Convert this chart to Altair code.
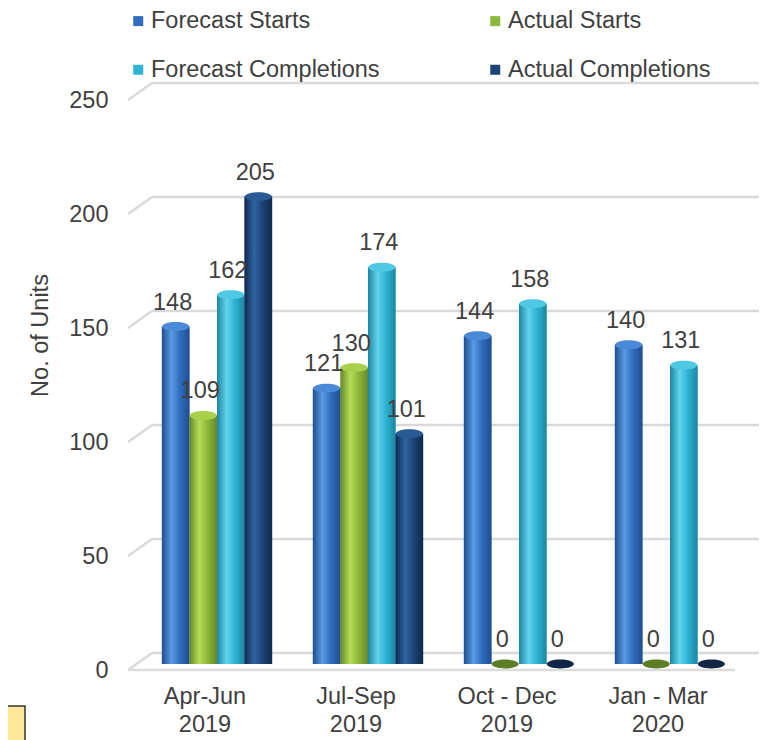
import altair as alt
import pandas as pd

# ---- data ----
periods = ["Apr-Jun|2019", "Jul-Sep|2019", "Oct - Dec|2019", "Jan - Mar|2020"]
series = ["Forecast Starts", "Actual Starts", "Forecast Completions", "Actual Completions"]
forecast_starts = [148, 121, 144, 140]
actual_starts = [109, 130, 0, 0]
forecast_completions = [162, 174, 158, 131]
actual_completions = [205, 101, 0, 0]
y_ticks = [0, 50, 100, 150, 200, 250]

# ---- styling ----
base_colors = ["#2f6dbf", "#8cb83b", "#2db3d3", "#1c4477"]
light_colors = ["#5a9be3", "#b4dc55", "#63d3ec", "#2f64a3"]
dark_colors = ["#1f4e8e", "#66882a", "#1d86a3", "#10294b"]
cap_colors = ["#4a8ad8", "#a9d04b", "#4fc8e4", "#285a94"]
zero_cap_colors = ["#1f4e8e", "#5d7d24", "#1d86a3", "#0f2745"]
FONT = "Liberation Sans"
TXT = "#404040"
FS = 23.5
PX_PER_UNIT = 570 / 250.0

values_by_series = [forecast_starts, actual_starts, forecast_completions, actual_completions]
rows = []
for s, vals in zip(series, values_by_series):
    for p, v in zip(periods, vals):
        rows.append({"period": p, "series": s, "value": v})
df = pd.DataFrame(rows)
grid_df = pd.DataFrame({"t": y_ticks})

yscale = alt.Scale(domain=[0, 250], nice=False, zero=True)
xscale = alt.Scale(domain=periods, paddingInner=0.27, paddingOuter=0.135)
xoscale = alt.Scale(domain=series, paddingInner=0, paddingOuter=0)

y_axis = alt.Axis(
    values=y_ticks, grid=False, domain=False, ticks=False, tickSize=0,
    labelPadding=33.5, labelOffset=6, labelFontSize=FS, labelFont=FONT,
    labelColor=TXT, title="No. of Units", titleFontSize=FS,
    titleFont=FONT, titleFontWeight="normal", titleColor=TXT,
    titleX=-101.5, titleY=241, titleAngle=-90, titleAlign="center",
    titleBaseline="middle",
)

x_enc = alt.X(
    "period:N", sort=periods, scale=xscale,
    axis=alt.Axis(
        title=None, labelExpr="split(datum.label, '|')", labelAngle=0,
        labelFontSize=FS, labelColor=TXT, labelFont=FONT, labelLineHeight=28,
        labelPadding=20, labelOffset=-12, labelBaseline="top",
        domain=False, ticks=False, grid=False,
    ),
)
xo_enc = alt.XOffset("series:N", sort=series, scale=xoscale)


def yv(field):
    return alt.Y(field, scale=yscale, axis=y_axis, title="No. of Units")


# ---- 3D-like gridlines ----
grid = alt.Chart(grid_df).transform_calculate(
    front=f"datum.t - {6 / PX_PER_UNIT}",
    back=f"datum.t + {11 / PX_PER_UNIT}",
)
grid_back = grid.mark_rule(color="#d9d9d9", strokeWidth=2.5).encode(
    x=alt.value(10.5), x2=alt.value(617.5),
    y=yv("back:Q"),
)
grid_diag = grid.mark_rule(color="#d9d9d9", strokeWidth=2.5).encode(
    x=alt.value(-13.5), x2=alt.value(10.5),
    y=yv("front:Q"), y2="back:Q",
)
floor_front = grid.transform_filter(alt.datum.t == 0).mark_rule(
    color="#dcdcdc", strokeWidth=2.5
).encode(
    x=alt.value(-13.5), x2=alt.value(593.5),
    y=yv("front:Q"),
)

# ---- solid bars (carry the legend) ----
solid = alt.Chart(df).mark_bar().encode(
    x=x_enc, xOffset=xo_enc,
    y=yv("value:Q"),
    color=alt.Color(
        "series:N", sort=series,
        scale=alt.Scale(domain=series, range=base_colors),
        legend=alt.Legend(
            title=None, orient="none", legendX=-15, legendY=-85, columns=2,
            direction="horizontal",
            symbolType="square", symbolSize=100, symbolStrokeWidth=0,
            labelFontSize=FS, labelFont=FONT, labelColor=TXT, labelOffset=1,
            columnPadding=103, rowPadding=24, padding=0, labelLimit=400,
        ),
    ),
)

layers = [grid_back, grid_diag, floor_front, solid]

# ---- cylinder shading per series ----
ellipse = "M -1 0 A 1 0.33 0 1 1 1 0 A 1 0.33 0 1 1 -1 0 Z"
for i, s in enumerate(series):
    grad = alt.LinearGradient(
        gradient="linear", x1=0, x2=1, y1=0, y2=0,
        stops=[
            alt.GradientStop(color=dark_colors[i], offset=0),
            alt.GradientStop(color=light_colors[i], offset=0.35),
            alt.GradientStop(color=base_colors[i], offset=0.65),
            alt.GradientStop(color=dark_colors[i], offset=1),
        ],
    )
    sub = alt.Chart(df).transform_filter(alt.datum.series == s)
    layers.append(
        sub.transform_filter(alt.datum.value > 0).mark_bar(color=grad).encode(
            x=x_enc, xOffset=xo_enc, y=yv("value:Q"),
        )
    )
    layers.append(
        sub.transform_filter(alt.datum.value > 0).mark_point(
            shape=ellipse, size=729, filled=True, opacity=1, color=cap_colors[i],
            strokeWidth=0,
        ).encode(x=x_enc, xOffset=xo_enc, y=yv("value:Q"))
    )
    layers.append(
        sub.transform_filter(alt.datum.value == 0).mark_point(
            shape=ellipse, size=729, filled=True, opacity=1,
            color=zero_cap_colors[i], strokeWidth=0,
        ).encode(x=x_enc, xOffset=xo_enc, y=yv("value:Q"))
    )

labels = alt.Chart(df).mark_text(
    dy=-24, dx=-3, fontSize=FS, font=FONT, color=TXT, baseline="middle"
).encode(
    x=x_enc, xOffset=xo_enc,
    y=yv("value:Q"),
    text=alt.Text("value:Q"),
)
layers.append(labels)

note_box = alt.Chart(pd.DataFrame({"a": [0]})).mark_rect(
    fill="#ffe89a", stroke="#333333", strokeWidth=1.5
).encode(
    x=alt.value(-150), x2=alt.value(-116.5),
    y=alt.value(612), y2=alt.value(680),
)
layers.append(note_box)

chart = alt.layer(*layers).properties(
    width=604, height=570,
    background="white",
    autosize=alt.AutoSizeParams(type="none"),
    padding={"left": 133.5, "top": 86, "right": 15, "bottom": 76},
).configure_view(strokeWidth=0, stroke=None)

chart.save("out.html", embed_options={"renderer": "svg", "actions": False})
